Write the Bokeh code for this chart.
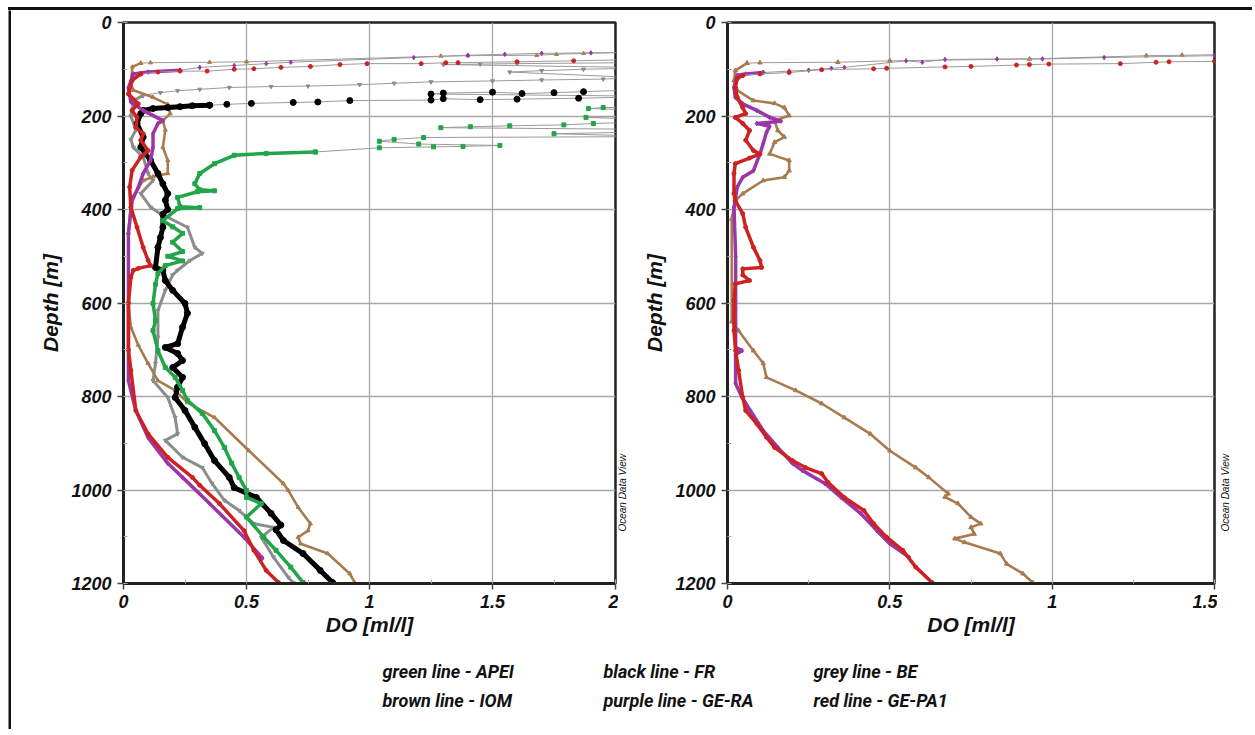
import math
from bokeh.plotting import figure
from bokeh.layouts import column, row
from bokeh.models import Range1d, SingleIntervalTicker, NumeralTickFormatter, Label, Spacer, Div
from bokeh.embed import file_html
from bokeh.resources import INLINE

# ---------------- data (DO in ml/l, depth in m) ----------------
# Left panel
green_top_do = [4.6, 4.2, 3.5, 2.6, 2.3, 1.95, 1.89, 2.4, 1.88, 2.3, 1.91, 1.79, 1.57, 1.41, 1.29, 2.5, 1.75, 2.2, 1.22, 1.1, 1.04, 1.2, 1.53, 1.38, 1.26, 1.04, 0.78]
green_top_z = [0, 60, 120, 160, 178, 182, 184, 192, 203, 210, 216, 219, 221, 223, 225, 230, 238, 244, 246, 250, 254, 260, 263, 265, 266, 268, 277]
green_do = [0.78, 0.58, 0.45, 0.37, 0.31, 0.29, 0.31, 0.37, 0.3, 0.22, 0.23, 0.31, 0.22, 0.16, 0.2, 0.24, 0.2, 0.24, 0.18, 0.24,
            0.17, 0.14, 0.13, 0.12, 0.13, 0.12, 0.14, 0.17, 0.21, 0.24, 0.26, 0.32, 0.37, 0.41, 0.44, 0.47, 0.5, 0.5, 0.56, 0.5,
            0.57, 0.62, 0.68, 0.73]
green_z = [277, 280, 284, 302, 323, 345, 358, 360, 362, 374, 394, 396, 398, 424, 437, 451, 470, 490, 500, 510,
           520, 537, 560, 601, 637, 659, 702, 738, 759, 787, 808, 836, 873, 909, 943, 973, 1001, 1016, 1029, 1058,
           1101, 1129, 1165, 1198]

black_top_do = [4.6, 4.0, 3.0, 2.3, 1.87, 1.75, 1.62, 1.5, 1.3, 1.25, 2.2, 1.85, 1.6, 1.45, 1.3, 1.25, 0.92, 0.79, 0.69, 0.52, 0.42, 0.35]
black_top_z = [0, 60, 110, 140, 148, 150, 152, 149, 151, 153, 158, 162, 164, 165, 163, 166, 167, 170, 171, 173, 175, 177]
black_do = [0.35, 0.28, 0.23, 0.18, 0.12, 0.08, 0.07, 0.055, 0.08, 0.07, 0.11, 0.14, 0.16, 0.18, 0.17, 0.18, 0.16, 0.16, 0.15, 0.14,
            0.13, 0.16, 0.17, 0.2, 0.25, 0.26, 0.24, 0.22, 0.17, 0.22, 0.24, 0.2, 0.24, 0.22, 0.21, 0.25, 0.29, 0.33, 0.37, 0.43,
            0.45, 0.54, 0.6, 0.64, 0.62, 0.65, 0.73, 0.8, 0.85]
black_z = [177, 178, 180, 182, 184, 188, 195, 216, 245, 267, 295, 323, 345, 366, 380, 400, 410, 438, 460, 481,
           524, 530, 552, 573, 601, 622, 652, 687, 695, 708, 723, 738, 759, 780, 802, 830, 866, 901, 937, 973,
           995, 1016, 1050, 1075, 1085, 1108, 1136, 1172, 1198]

grey_top_do = [4.6, 4.0, 3.0, 2.3, 1.6, 1.45, 1.3, 2.2, 1.87, 1.7, 1.57, 2.1, 1.95, 1.7, 1.5, 1.25, 1.1, 0.96, 0.75, 0.6, 0.43, 0.31, 0.22, 0.15, 0.08]
grey_top_z = [0, 40, 70, 85, 88, 89, 90, 97, 100, 103, 106, 118, 121, 123, 125, 127, 130, 133, 136, 137, 139, 143, 146, 150, 156]
grey_do = [0.08, 0.04, 0.03, 0.05, 0.03, 0.04, 0.08, 0.1, 0.12, 0.07, 0.11, 0.15, 0.26, 0.29, 0.32, 0.27, 0.22, 0.2, 0.17, 0.14,
           0.14, 0.13, 0.12, 0.18, 0.21, 0.22, 0.17, 0.24, 0.32, 0.36, 0.41, 0.47, 0.53, 0.61, 0.56, 0.61, 0.67, 0.69]
grey_z = [156, 167, 200, 230, 250, 267, 288, 323, 338, 366, 395, 409, 438, 481, 494, 509, 530, 540, 573, 616,
          673, 729, 766, 802, 845, 880, 894, 930, 952, 986, 1022, 1044, 1072, 1080, 1101, 1144, 1187, 1198]

brown_top_do = [4.6, 4.0, 3.0, 2.3, 1.87, 1.76, 1.68, 1.4, 1.29, 0.5, 0.35, 0.11, 0.07]
brown_top_z = [0, 30, 50, 62, 66, 68, 70, 71, 72, 84, 85, 86, 87]
brown_do = [0.07, 0.036, 0.03, 0.04, 0.12, 0.18, 0.19, 0.16, 0.17, 0.16, 0.18, 0.18, 0.12, 0.08, 0.036, 0.03, 0.02, 0.02, 0.03, 0.06,
            0.10, 0.14, 0.21, 0.26, 0.37, 0.51, 0.65, 0.67, 0.71, 0.76, 0.75, 0.71, 0.72, 0.83, 0.92, 0.94]
brown_z = [87, 95, 131, 145, 160, 175, 195, 210, 230, 267, 295, 323, 330, 338, 374, 385, 450, 600, 652, 690,
           729, 766, 787, 813, 845, 916, 986, 1001, 1037, 1072, 1087, 1101, 1115, 1136, 1179, 1198]

purple_top_do = [4.6, 4.0, 3.0, 2.2, 1.9, 1.7, 1.55, 1.4, 1.18, 0.68, 0.58, 0.45, 0.31, 0.23]
purple_top_z = [0, 30, 50, 62, 65, 66, 68, 70, 75, 85, 88, 92, 96, 102]
purple_do = [0.23, 0.1, 0.04, 0.02, 0.03, 0.08, 0.16, 0.14, 0.12, 0.12, 0.11, 0.08, 0.06, 0.035, 0.02, 0.02, 0.02, 0.05, 0.10, 0.18,
             0.24, 0.35, 0.49, 0.565]
purple_z = [102, 106, 110, 140, 170, 188, 210, 216, 238, 267, 295, 323, 353, 381, 451, 600, 766, 830, 888, 943,
            973, 1029, 1101, 1146]

red_top_do = [4.6, 4.0, 3.0, 2.2, 1.83, 1.6, 1.36, 1.31, 1.21, 0.99, 0.88, 0.76, 0.64, 0.53, 0.45, 0.34, 0.23, 0.14, 0.07]
red_top_z = [0, 40, 65, 78, 82, 84, 86, 86, 88, 88, 90, 94, 96, 99, 100, 104, 104, 106, 110]
red_do = [0.07, 0.035, 0.02, 0.06, 0.035, 0.055, 0.05, 0.08, 0.07, 0.10, 0.07, 0.035, 0.025, 0.03, 0.055, 0.08, 0.10, 0.11, 0.06, 0.04,
          0.03, 0.02, 0.02, 0.03, 0.05, 0.10, 0.18, 0.28, 0.31, 0.39, 0.49, 0.53, 0.58, 0.63]
red_z = [110, 124, 153, 174, 188, 203, 224, 238, 252, 274, 288, 316, 352, 395, 438, 481, 509, 520, 526, 530,
         545, 600, 700, 744, 830, 880, 930, 973, 990, 1029, 1087, 1129, 1172, 1198]

# Right panel
r_brown_top_do = [4.6, 3.5, 2.2, 1.6, 1.40, 1.29, 0.93, 0.5, 0.34, 0.1, 0.06]
r_brown_top_z = [0, 40, 62, 68, 70, 71, 78, 82, 85, 86, 87]
r_brown_do = [0.06, 0.024, 0.02, 0.03, 0.08, 0.145, 0.175, 0.19, 0.145, 0.155, 0.175, 0.145, 0.13, 0.19, 0.19, 0.175, 0.11, 0.047, 0.024, 0.013,
              0.013, 0.034, 0.08, 0.11, 0.12, 0.21, 0.29, 0.36, 0.44, 0.5, 0.58, 0.62, 0.68, 0.67, 0.71, 0.75, 0.78, 0.75, 0.76, 0.70,
              0.73, 0.84, 0.86, 0.91, 0.94]
r_brown_z = [87, 103, 124, 145, 167, 173, 182, 199, 210, 231, 245, 256, 281, 295, 317, 331, 338, 366, 381, 420,
             640, 659, 702, 729, 759, 787, 815, 845, 880, 916, 952, 973, 1008, 1015, 1029, 1058, 1072, 1080, 1094, 1104,
             1112, 1136, 1158, 1179, 1198]

r_purple_top_do = [4.6, 3.5, 2.2, 1.5, 1.16, 0.97, 0.83, 0.67, 0.6, 0.55, 0.36, 0.32, 0.25, 0.19, 0.11]
r_purple_top_z = [0, 40, 65, 71, 75, 78, 78, 79, 85, 82, 96, 98, 102, 104, 107]
r_purple_do = [0.11, 0.056, 0.03, 0.02, 0.024, 0.047, 0.09, 0.13, 0.165, 0.09, 0.13, 0.12, 0.11, 0.10, 0.08, 0.047, 0.03, 0.02, 0.025, 0.025,
               0.045, 0.025, 0.025, 0.045, 0.07, 0.11, 0.155, 0.2, 0.23, 0.3, 0.35, 0.41, 0.46, 0.5, 0.56]
r_purple_z = [107, 110, 113, 139, 160, 174, 188, 203, 211, 216, 222, 235, 259, 281, 317, 331, 352, 395, 500, 695,
              702, 710, 772, 802, 830, 873, 909, 943, 958, 986, 1016, 1050, 1087, 1115, 1144]

r_red_top_do = [4.6, 3.5, 2.2, 1.5, 1.36, 1.32, 1.21, 0.99, 0.93, 0.89, 0.75, 0.67, 0.49, 0.45, 0.29, 0.19, 0.1, 0.047]
r_red_top_z = [0, 45, 75, 83, 84, 85, 88, 89, 90, 91, 94, 95, 98, 99, 101, 107, 110, 113]
r_red_do = [0.047, 0.03, 0.024, 0.03, 0.047, 0.056, 0.024, 0.047, 0.068, 0.056, 0.08, 0.1, 0.068, 0.024, 0.02, 0.02, 0.024, 0.047, 0.056, 0.08,
            0.1, 0.105, 0.047, 0.047, 0.068, 0.024, 0.02, 0.02, 0.025, 0.034, 0.047, 0.056, 0.09, 0.12, 0.145, 0.2, 0.24, 0.29, 0.31, 0.36,
            0.42, 0.45, 0.49, 0.54, 0.58, 0.63]
r_red_z = [113, 120, 139, 160, 182, 195, 203, 216, 231, 252, 274, 281, 290, 302, 323, 366, 381, 409, 438, 481,
           509, 524, 527, 540, 552, 559, 595, 659, 702, 744, 802, 830, 858, 887, 909, 937, 952, 965, 984, 1016,
           1044, 1072, 1101, 1129, 1165, 1198]

legend_col1 = ["green line - APEI", "brown line - IOM"]
legend_col2 = ["black line - FR", "purple line - GE-RA"]
legend_col3 = ["grey line - BE", "red line - GE-PA1"]

GREEN = "#22A548"
BLACK = "#000000"
GREY = "#8C8C8C"
BROWN = "#A87B4E"
PURPLE = "#9B35A8"
RED = "#CC2222"

TICK_FONT = "Liberation Sans"
FIG_H = 12 + 561 + 54


def blank(width, height, color="white"):
    f = figure(width=width, height=height, x_range=Range1d(0, width), y_range=Range1d(0, height),
               output_backend="svg", toolbar_location=None, x_axis_type=None, y_axis_type=None,
               min_border=0, min_border_left=0, min_border_right=0, min_border_top=0, min_border_bottom=0)
    f.grid.visible = False
    f.outline_line_color = None
    f.background_fill_color = color
    f.border_fill_color = color
    return f


def make_panel(xmax, frame_w, left_border, right_border):
    p = figure(width=left_border + frame_w + right_border, height=FIG_H,
               frame_width=frame_w, frame_height=561,
               x_range=Range1d(0, xmax), y_range=Range1d(1200, 0),
               output_backend="svg", toolbar_location=None,
               min_border_left=left_border, min_border_right=right_border,
               min_border_top=12, min_border_bottom=54)
    p.background_fill_color = "white"
    p.border_fill_color = "white"
    p.outline_line_color = "#222222"
    p.outline_line_width = 2.5
    p.xaxis.ticker = SingleIntervalTicker(interval=0.5, num_minor_ticks=2)
    p.yaxis.ticker = SingleIntervalTicker(interval=200, num_minor_ticks=2)
    p.xaxis.formatter = NumeralTickFormatter(format="0.[0]")
    p.xgrid.ticker = SingleIntervalTicker(interval=0.5)
    p.ygrid.ticker = SingleIntervalTicker(interval=200)
    for g in (p.xgrid, p.ygrid):
        g.grid_line_color = "#A8A8A8"
        g.grid_line_width = 1.3
    for ax in (p.xaxis, p.yaxis):
        ax.axis_line_color = "#222222"
        ax.axis_line_width = 3
        ax.major_tick_out = 6
        ax.major_tick_in = 0
        ax.major_tick_line_color = "#444444"
        ax.major_tick_line_width = 1.5
        ax.minor_tick_in = 4
        ax.minor_tick_out = 0
        ax.minor_tick_line_color = "#AAAAAA"
        ax.minor_tick_line_width = 1
        ax.major_label_text_font = TICK_FONT
        ax.major_label_text_font_style = "bold italic"
        ax.major_label_text_font_size = "18px"
        ax.major_label_text_color = "#111111"
        ax.axis_label_text_font = TICK_FONT
        ax.axis_label_text_font_style = "bold italic"
        ax.axis_label_text_font_size = "21px"
        ax.axis_label_text_color = "#111111"
    p.xaxis.axis_label = "DO [ml/l]"
    p.yaxis.axis_label = "Depth [m]"
    p.xaxis.axis_label_standoff = 2
    p.yaxis.axis_label_standoff = 6
    p.xaxis.major_label_standoff = 5
    p.yaxis.major_label_standoff = 6
    return p


def draw(p, top_do, top_z, do, z, color, marker, lw, ms):
    p.line(top_do, top_z, line_color="#9A9A9A", line_width=1)
    p.scatter(top_do, top_z, marker=marker, size=ms, fill_color=color, line_color=color)
    p.line(do, z, line_color=color, line_width=lw)
    p.scatter(do, z, marker=marker, size=ms, fill_color=color, line_color=color)


def odv_strip(width, x_center):
    f = blank(width, FIG_H)
    f.add_layout(Label(x=x_center, y=FIG_H - 570, text="Ocean Data View", angle=math.pi / 2,
                       text_font=TICK_FONT, text_font_style="italic", text_font_size="10px",
                       text_align="left", text_baseline="middle", text_color="#111111"))
    return f


# ---------------- left panel ----------------
p1 = make_panel(2, 492, 112, 3)
draw(p1, grey_top_do, grey_top_z, grey_do, grey_z, GREY, "inverted_triangle", 3.0, 4)
draw(p1, brown_top_do, brown_top_z, brown_do, brown_z, BROWN, "triangle", 2.6, 4)
draw(p1, black_top_do, black_top_z, black_do, black_z, BLACK, "circle", 5.0, 6)
draw(p1, green_top_do, green_top_z, green_do, green_z, GREEN, "square", 3.5, 4)
draw(p1, purple_top_do, purple_top_z, purple_do, purple_z, PURPLE, "diamond", 3.5, 4.5)
draw(p1, red_top_do, red_top_z, red_do, red_z, RED, "circle", 3.5, 4)
odv1 = odv_strip(22, 4)

# ---------------- right panel ----------------
p2 = make_panel(1.5, 487, 84, 3)
draw(p2, r_brown_top_do, r_brown_top_z, r_brown_do, r_brown_z, BROWN, "triangle", 2.6, 4.5)
draw(p2, r_purple_top_do, r_purple_top_z, r_purple_do, r_purple_z, PURPLE, "diamond", 3.5, 4.5)
draw(p2, r_red_top_do, r_red_top_z, r_red_do, r_red_z, RED, "circle", 3.5, 4)
odv2 = odv_strip(33, 8)

# ---------------- legend text ----------------
leg_w = 607 + 22 + 574 + 33
leg = blank(leg_w, 92)
for xpos, texts in ((371, legend_col1), (592, legend_col2), (802, legend_col3)):
    for ypos, t in zip((59, 30), texts):
        leg.add_layout(Label(x=xpos, y=ypos, text=t, text_font="Roboto",
                             text_font_style="bold italic", text_font_size="18px",
                             text_align="left", text_baseline="middle", text_color="#111111"))

# ---------------- frame (page border lines) ----------------
top_w = 3 + leg_w + 5
top_bar = Div(text="", width=top_w, height=3, margin=0,
              styles={"background-color": "#111111", "padding": "0px", "line-height": "0px", "font-size": "0px"})
left_bar = blank(3, FIG_H + 92, "#111111")

content = column(row(p1, odv1, p2, odv2), leg)
layout = row(Spacer(width=8, height=10),
             column(Spacer(width=10, height=7), top_bar, row(left_bar, content)))

open("out.html", "w").write(file_html(layout, INLINE))
